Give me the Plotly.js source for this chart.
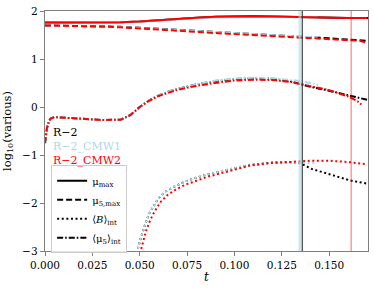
<!DOCTYPE html>
<html><head><meta charset="utf-8">
<script src="https://cdn.plot.ly/plotly-3.0.1.min.js"></script>
<style>html,body{margin:0;padding:0;background:#fff}#plot{width:374px;height:290px}</style>
</head><body><div id="plot"></div>
<script>
// ---- data ----
var runNames = ["R\u22122", "R\u22122_CMW1", "R\u22122_CMW2"];
var runColors = ["#000000", "#ADD8E6", "#FF0000"];

// mu_max (solid)
var muMax_t_R2   = [0,0.01,0.02,0.03,0.04,0.05,0.06,0.07,0.08,0.09,0.10,0.11,0.12,0.13,0.14,0.15,0.16,0.17,0.172];
var muMax_R2     = [1.76,1.76,1.76,1.76,1.765,1.78,1.81,1.84,1.86,1.88,1.89,1.89,1.885,1.875,1.865,1.86,1.855,1.855,1.855];
var muMax_t_CMW1 = [0,0.01,0.02,0.03,0.04,0.05,0.06,0.07,0.08,0.09,0.10,0.11,0.12,0.13,0.14,0.144];
var muMax_CMW1   = [1.76,1.76,1.76,1.76,1.765,1.775,1.80,1.83,1.85,1.865,1.875,1.88,1.88,1.875,1.87,1.87];
var muMax_t_CMW2 = [0,0.01,0.02,0.03,0.04,0.05,0.06,0.07,0.08,0.09,0.10,0.11,0.12,0.13,0.14,0.15,0.16,0.17];
var muMax_CMW2   = [1.76,1.76,1.76,1.76,1.765,1.78,1.81,1.84,1.86,1.88,1.89,1.89,1.885,1.875,1.865,1.86,1.855,1.855];

// mu_5,max (dashed)
var mu5Max_t_R2   = [0,0.01,0.02,0.03,0.04,0.05,0.06,0.07,0.08,0.09,0.10,0.11,0.12,0.13,0.14,0.15,0.16,0.17,0.172];
var mu5Max_R2     = [1.70,1.695,1.69,1.68,1.67,1.65,1.63,1.61,1.59,1.565,1.545,1.52,1.50,1.48,1.455,1.43,1.41,1.385,1.375];
var mu5Max_t_CMW1 = [0,0.01,0.02,0.03,0.04,0.05,0.06,0.07,0.08,0.09,0.10,0.11,0.12,0.13,0.14,0.144];
var mu5Max_CMW1   = [1.70,1.695,1.69,1.68,1.665,1.645,1.625,1.60,1.58,1.56,1.535,1.515,1.495,1.475,1.455,1.45];
var mu5Max_t_CMW2 = [0,0.01,0.02,0.03,0.04,0.05,0.06,0.07,0.08,0.09,0.10,0.11,0.12,0.13,0.14,0.15,0.16,0.166,0.169];
var mu5Max_CMW2   = [1.70,1.695,1.685,1.675,1.66,1.64,1.615,1.59,1.565,1.54,1.52,1.50,1.48,1.46,1.44,1.42,1.40,1.38,1.35];

// <B>_int (dotted)
var Bint_t_R2   = [0.0488,0.0491,0.0504,0.0518,0.0536,0.0553,0.0575,0.0597,0.0633,0.0677,0.0729,0.0791,0.0853,0.0923,0.0994,0.1064,0.1188,0.1294,0.1347,0.1408,0.1505,0.161,0.1707,0.172];
var Bint_R2     = [-3.05,-2.94,-2.75,-2.56,-2.36,-2.20,-2.04,-1.91,-1.77,-1.67,-1.57,-1.48,-1.41,-1.34,-1.28,-1.22,-1.16,-1.15,-1.17,-1.29,-1.41,-1.53,-1.60,-1.61];
var Bint_t_CMW1 = [0.0488,0.0491,0.0504,0.0518,0.0536,0.0553,0.0575,0.0597,0.0633,0.0677,0.0729,0.0791,0.0853,0.0923,0.0994,0.1064,0.1188,0.1294,0.1347,0.140,0.1434];
var Bint_CMW1   = [-3.05,-2.94,-2.75,-2.56,-2.36,-2.20,-2.04,-1.91,-1.77,-1.67,-1.57,-1.48,-1.41,-1.34,-1.28,-1.22,-1.17,-1.16,-1.16,-1.16,-1.17];
var Bint_t_CMW2 = [0.0502,0.0518,0.0532,0.055,0.0567,0.059,0.0612,0.0648,0.069,0.074,0.080,0.086,0.093,0.100,0.1082,0.1188,0.1294,0.1399,0.1505,0.161,0.169];
var Bint_CMW2   = [-3.05,-2.78,-2.60,-2.41,-2.26,-2.10,-1.97,-1.83,-1.72,-1.62,-1.53,-1.45,-1.38,-1.31,-1.22,-1.17,-1.14,-1.12,-1.12,-1.15,-1.19];

// <mu_5>_int (dash-dot)
var mu5int_t_R2   = [0,0.001,0.002,0.003,0.005,0.01,0.02,0.03,0.04,0.045,0.05,0.055,0.06,0.065,0.07,0.075,0.08,0.09,0.10,0.11,0.12,0.13,0.135,0.14,0.15,0.16,0.17,0.172];
var mu5int_R2     = [-0.75,-0.45,-0.30,-0.24,-0.21,-0.225,-0.25,-0.27,-0.265,-0.17,0.0,0.14,0.24,0.32,0.38,0.43,0.47,0.54,0.58,0.60,0.59,0.53,0.48,0.42,0.34,0.24,0.15,0.14];
var mu5int_t_CMW1 = [0,0.001,0.002,0.003,0.005,0.01,0.02,0.03,0.04,0.045,0.05,0.055,0.06,0.065,0.07,0.075,0.08,0.09,0.10,0.11,0.12,0.13,0.135,0.14,0.144];
var mu5int_CMW1   = [-0.75,-0.45,-0.30,-0.24,-0.21,-0.225,-0.25,-0.27,-0.265,-0.17,0.0,0.14,0.24,0.32,0.38,0.43,0.47,0.55,0.59,0.61,0.60,0.56,0.54,0.50,0.46];
var mu5int_t_CMW2 = [0,0.001,0.002,0.003,0.005,0.01,0.02,0.03,0.04,0.045,0.05,0.055,0.06,0.065,0.07,0.075,0.08,0.09,0.10,0.11,0.12,0.13,0.135,0.14,0.15,0.16,0.165,0.167];
var mu5int_CMW2   = [-0.75,-0.45,-0.30,-0.24,-0.21,-0.225,-0.25,-0.27,-0.265,-0.17,0.0,0.13,0.23,0.30,0.36,0.40,0.44,0.50,0.55,0.57,0.56,0.52,0.48,0.43,0.35,0.22,0.12,0.05];

// vertical markers (t) per run
var vline_t = [0.1358, 0.1346, 0.1616];

var xTicks = [0, 0.025, 0.05, 0.075, 0.1, 0.125, 0.15];
var xTickText = ["0.000","0.025","0.050","0.075","0.100","0.125","0.150"];
var yTicks = [-3,-2,-1,0,1,2];
var yTickText = ["\u22123","\u22122","\u22121","0","1","2"];

var legendNames = ["\u03bc<sub>max</sub>", "\u03bc<sub>5,max</sub>", "\u27e8<i>B</i>\u27e9<sub>int</sub>", "\u27e8\u03bc<sub>5</sub>\u27e9<sub>int</sub>"];

// ---- build ----
var SERIF = "DejaVu Serif";
var DOT = "2px,2.6px", DASH = "6px,3px", DASHDOT = "6px,2px,1.6px,2px";
var dashes = ["solid", DASH, DOT, DASHDOT];
var series = [
  [[muMax_t_R2,muMax_R2],[muMax_t_CMW1,muMax_CMW1],[muMax_t_CMW2,muMax_CMW2]],
  [[mu5Max_t_R2,mu5Max_R2],[mu5Max_t_CMW1,mu5Max_CMW1],[mu5Max_t_CMW2,mu5Max_CMW2]],
  [[Bint_t_R2,Bint_R2],[Bint_t_CMW1,Bint_CMW1],[Bint_t_CMW2,Bint_CMW2]],
  [[mu5int_t_R2,mu5int_R2],[mu5int_t_CMW1,mu5int_CMW1],[mu5int_t_CMW2,mu5int_CMW2]]
];
var traces = [];
for (var r = 0; r < 3; r++) {
  for (var q = 0; q < 4; q++) {
    traces.push({x: series[q][r][0], y: series[q][r][1], mode: "lines", showlegend: false,
      hoverinfo: "skip", line: {color: runColors[r], width: 2, dash: dashes[q]}});
  }
}
for (var q = 0; q < 4; q++) {
  traces.push({x: [-1], y: [-10], mode: "lines", name: legendNames[q], showlegend: true,
    line: {color: "#000", width: 2, dash: dashes[q]}});
}

var shapes = [
  {type:"line", xref:"x", yref:"paper", x0:vline_t[1], x1:vline_t[1], y0:0, y1:1, line:{color:"rgba(173,216,230,0.6)", width:3}},
  {type:"line", xref:"x", yref:"paper", x0:vline_t[0], x1:vline_t[0], y0:0, y1:1, line:{color:"#222", width:1}},
  {type:"line", xref:"x", yref:"paper", x0:vline_t[2], x1:vline_t[2], y0:0, y1:1, line:{color:"rgba(255,0,0,0.6)", width:1}}
];

var annY = [0.4946, 0.4354, 0.378];
var annotations = runNames.map(function(n, i){
  return {text: n, xref:"paper", yref:"paper", x:0.019, y:annY[i], xanchor:"left", yanchor:"middle",
    showarrow:false, font:{family:SERIF, size:11, color: runColors[i]}};
});

var font = {family: SERIF, size: 10.5, color: "#000"};
var layout = {
  width: 374, height: 290,
  margin: {l: 45, r: 6, t: 11, b: 39},
  paper_bgcolor: "#fff", plot_bgcolor: "#fff",
  font: font,
  showlegend: true,
  legend: {x: 0.019, y: 0.357, xanchor: "left", yanchor: "top", bgcolor: "rgba(255,255,255,0.8)",
    bordercolor: "#cccccc", borderwidth: 1, font: {family:SERIF, size: 10, color:"#000"},
    itemwidth: 30, tracegroupgap: 0},
  xaxis: {range: [0, 0.1705], tickvals: xTicks, ticktext: xTickText, ticks: "outside", ticklen: 4,
    tickcolor: "#808080", showline: true, linecolor: "#808080", linewidth: 1.3, mirror: true,
    showgrid: false, zeroline: false, tickfont: font,
    title: {text: "<i>t</i>", font: {family:SERIF, size: 12}, standoff: 2}},
  yaxis: {range: [-3, 2], tickvals: yTicks, ticktext: yTickText, ticks: "outside", ticklen: 4,
    tickcolor: "#808080", showline: true, linecolor: "#808080", linewidth: 1.3, mirror: true,
    showgrid: false, zeroline: false, tickfont: font,
    title: {text: "log<sub>10</sub>(various)", font: {family:SERIF, size: 11.5}, standoff: 8}},
  shapes: shapes,
  annotations: annotations
};
Plotly.newPlot("plot", traces, layout, {staticPlot: true, displayModeBar: false});
</script></body></html>
